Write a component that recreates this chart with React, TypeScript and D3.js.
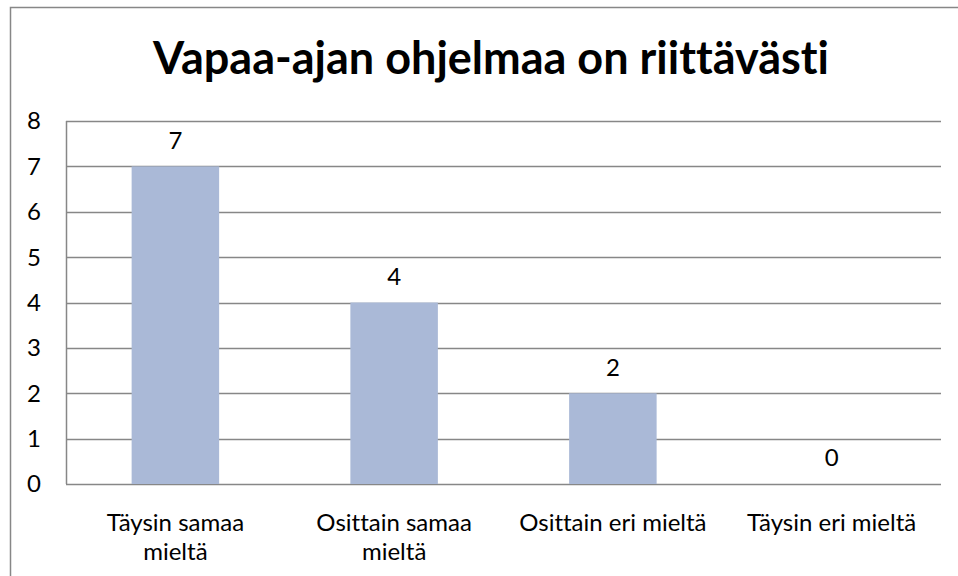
import React, { useEffect, useRef } from "react";
import * as d3 from "d3";

const title = "Vapaa-ajan ohjelmaa on riittävästi";
const categories = ["Täysin samaa mieltä", "Osittain samaa mieltä", "Osittain eri mieltä", "Täysin eri mieltä"];
// how Excel wrapped the axis labels
const categoryLines = [["Täysin samaa", "mieltä"], ["Osittain samaa", "mieltä"], ["Osittain eri mieltä"], ["Täysin eri mieltä"]];
const values = [7, 4, 2, 0];
const yTicks = [0, 1, 2, 3, 4, 5, 6, 7, 8];

const width = 958;
const height = 576;
const font = "Lato, 'Open Sans', sans-serif";

export default function App() {
  const svgRef = useRef<SVGSVGElement | null>(null);

  useEffect(() => {
    if (!svgRef.current) return;
    const svg = d3.select(svgRef.current);
    svg.selectAll("*").remove();

    const plot = { left: 66, right: 941, top: 121, bottom: 484 };

    // outer chart border
    svg.append("rect")
      .attr("x", 10.5)
      .attr("y", 7.5)
      .attr("width", width + 10)
      .attr("height", height + 10)
      .attr("fill", "white")
      .attr("stroke", "#878787")
      .attr("stroke-width", 1.5);

    svg.append("text")
      .attr("x", 491)
      .attr("y", 74)
      .attr("text-anchor", "middle")
      .attr("font-family", font)
      .attr("font-weight", "bold")
      .attr("font-size", 45)
      .attr("fill", "#000")
      .text(title);

    const band = d3.scaleBand<string>()
      .domain(categories)
      .range([plot.left, plot.right]);

    const y = d3.scaleLinear()
      .domain([0, 8])
      .range([plot.bottom, plot.top]);

    // gridlines
    svg.append("g")
      .selectAll("line")
      .data(yTicks)
      .enter()
      .append("line")
      .attr("x1", plot.left)
      .attr("x2", plot.right)
      .attr("y1", d => Math.round(y(d)) + 0.5)
      .attr("y2", d => Math.round(y(d)) + 0.5)
      .attr("stroke", "#878787")
      .attr("stroke-width", 1.5);

    // left axis line
    svg.append("line")
      .attr("x1", plot.left + 0.5)
      .attr("x2", plot.left + 0.5)
      .attr("y1", plot.top)
      .attr("y2", plot.bottom)
      .attr("stroke", "#878787")
      .attr("stroke-width", 1.5);

    // y tick labels
    svg.append("g")
      .selectAll("text")
      .data(yTicks)
      .enter()
      .append("text")
      .attr("x", 41)
      .attr("y", d => y(d))
      .attr("dy", "0.35em")
      .attr("text-anchor", "end")
      .attr("font-family", font)
      .attr("font-size", 24)
      .attr("fill", "#000")
      .text(d => d);

    // bars, 150% gap width
    svg.append("g")
      .selectAll("rect")
      .data(values)
      .enter()
      .append("rect")
      .attr("x", (d, i) => (band(categories[i]) ?? 0) + band.bandwidth() * 0.3)
      .attr("width", band.bandwidth() * 0.4)
      .attr("y", d => y(d))
      .attr("height", d => y(0) - y(d))
      .attr("fill", "#AAB9D7");

    // value labels
    svg.append("g")
      .selectAll("text")
      .data(values)
      .enter()
      .append("text")
      .attr("x", (d, i) => (band(categories[i]) ?? 0) + band.bandwidth() / 2)
      .attr("y", d => y(d) - 26)
      .attr("dy", "0.35em")
      .attr("text-anchor", "middle")
      .attr("font-family", font)
      .attr("font-size", 24)
      .attr("fill", "#000")
      .text(d => d);

    // category labels
    const cat = svg.append("g")
      .selectAll("text")
      .data(categories)
      .enter()
      .append("text")
      .attr("text-anchor", "middle")
      .attr("font-family", font)
      .attr("font-size", 24)
      .attr("fill", "#000")
      .attr("transform", d => `translate(${(band(d) ?? 0) + band.bandwidth() / 2},${plot.bottom + 47})`);

    cat.selectAll("tspan")
      .data((d, i) => categoryLines[i])
      .enter()
      .append("tspan")
      .attr("x", 0)
      .attr("y", (d, i) => i * 29)
      .text(d => d);
  }, []);

  return (
    <svg
      ref={svgRef}
      width={width}
      height={height}
      style={{ position: "absolute", left: 0, top: 0, background: "white", fontVariantLigatures: "none" }}
    />
  );
}
